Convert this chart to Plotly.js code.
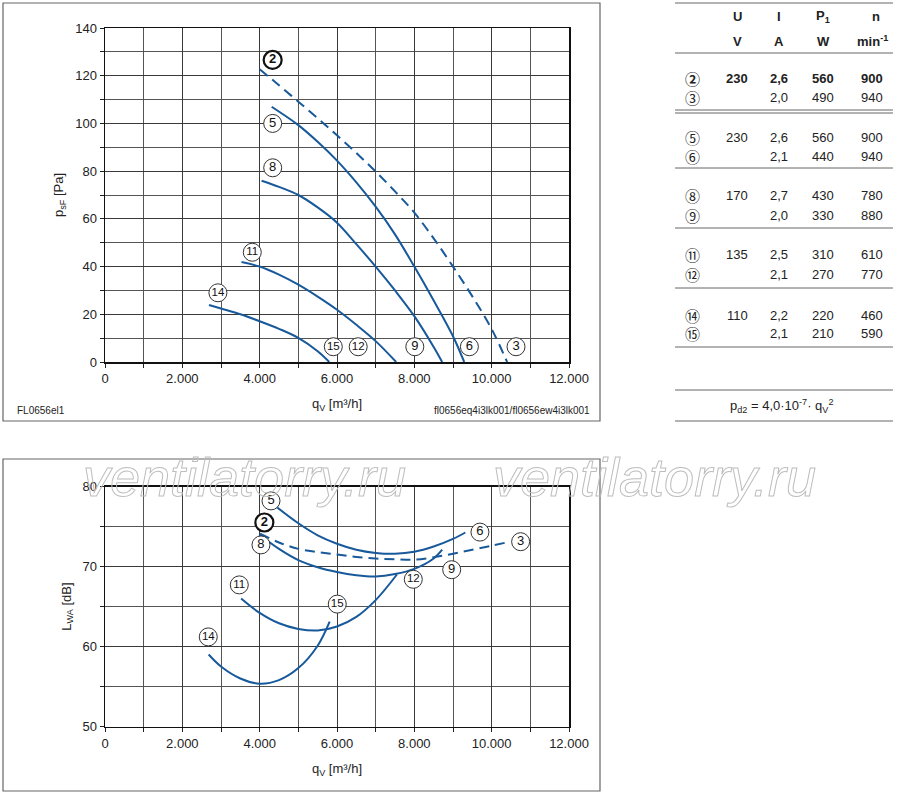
<!DOCTYPE html>
<html>
<head>
<meta charset="utf-8">
<script src="https://cdn.plot.ly/plotly-3.0.1.min.js"></script>
<style>html,body{margin:0;padding:0;background:#fff;} #chart{width:900px;height:797px;}</style>
</head>
<body>
<div id="chart"></div>
<script>
// ---------- DATA ----------
// Pressure curves p_sF [Pa] vs q_V [m3/h]
const pq_2  = [4000, 4500, 5000, 5500, 6000, 6500, 7000, 7500, 8000, 8500, 9000, 9500, 10000, 10400];
const pp_2  = [122.7, 116.0, 109.1, 102.2, 95.0, 87.6, 79.8, 71.5, 62.6, 51.8, 40.0, 27.5, 13.8, 0];
const pq_5  = [4310, 5000, 5500, 6000, 6500, 7000, 7500, 8000, 8500, 9000, 9290];
const pp_5  = [107.0, 99.3, 92.3, 84.4, 75.3, 65.1, 53.5, 40.0, 25.8, 10.8, 0];
const pq_8  = [4050, 4500, 5000, 5500, 6000, 6500, 7000, 7500, 8000, 8500, 8720];
const pp_8  = [76.0, 73.4, 70.0, 64.8, 58.4, 49.4, 40.0, 30.0, 19.2, 6.3, 0];
const pq_11 = [3530, 4000, 4500, 5000, 5500, 6000, 6500, 7000, 7530];
const pp_11 = [41.9, 40.0, 36.6, 32.4, 27.4, 21.9, 15.6, 8.75, 0];
const pq_14 = [2690, 3000, 3500, 4000, 4500, 5000, 5500, 5800];
const pp_14 = [23.9, 22.4, 20.0, 17.1, 13.9, 10.1, 4.5, 0];

// Sound curves L_WA [dB] vs q_V [m3/h]
const lq_2  = [4010, 4500, 5000, 5500, 6000, 6500, 7000, 7500, 8000, 8500, 9000, 9500, 10000, 10380];
const ll_2  = [74.1, 73.0, 72.2, 71.8, 71.5, 71.2, 71.0, 70.9, 70.85, 71.15, 71.6, 72.1, 72.6, 73.0];
const lq_5  = [4290, 5000, 5500, 6000, 6500, 7000, 7500, 8000, 8500, 9000, 9320];
const ll_5  = [78.0, 75.4, 73.9, 72.85, 72.1, 71.7, 71.6, 71.85, 72.5, 73.45, 74.25];
const lq_8  = [3990, 4500, 5000, 5500, 6000, 6500, 7000, 7500, 8000, 8500, 8720];
const ll_8  = [74.0, 72.2, 70.8, 69.9, 69.3, 68.9, 68.75, 69.05, 69.7, 71.0, 72.1];
const lq_11 = [3520, 4000, 4500, 5000, 5500, 6000, 6500, 7000, 7550];
const ll_11 = [66.0, 64.2, 62.9, 62.2, 62.0, 62.5, 63.7, 65.8, 69.0];
const lq_14 = [2680, 3000, 3500, 4000, 4500, 5000, 5500, 5810];
const ll_14 = [59.0, 57.5, 56.0, 55.35, 55.8, 57.3, 60.1, 63.1];

// Curve labels (circled numbers)
const topLabels = ['2', '5', '8', '11', '14', '15', '12', '9', '6', '3'];
const topLabelQ = [4336, 4337, 4337, 3809, 2920, 5904, 6548, 8012, 9424, 10630];
const topLabelP = [126.6, 100.0, 81.4, 46.0, 29.0, 6.4, 6.4, 6.4, 6.4, 6.4];
const botLabels = ['5', '2', '8', '6', '3', '9', '12', '11', '15', '14'];
const botLabelQ = [4293, 4121, 4034, 9697, 10749, 8966, 7973, 3473, 6007, 2671];
const botLabelL = [78.2, 75.5, 72.7, 74.3, 73.1, 69.6, 68.4, 67.7, 65.3, 61.2];

// Table
const tableHead  = ['U', 'I', 'P<sub>1</sub>', 'n'];
const tableUnits = ['V', 'A', 'W', 'min<sup>-1</sup>'];
const tableIds = ['②', '③', '⑤', '⑥', '⑧', '⑨', '⑪', '⑫', '⑭', '⑮'];
const tableU   = ['230', '', '230', '', '170', '', '135', '', '110', ''];
const tableI   = ['2,6', '2,0', '2,6', '2,1', '2,7', '2,0', '2,5', '2,1', '2,2', '2,1'];
const tableP   = ['560', '490', '560', '440', '430', '330', '310', '270', '220', '210'];
const tableN   = ['900', '940', '900', '940', '780', '880', '610', '770', '460', '590'];
const tableBoldRow = 0;
const formulaText = 'p<sub>d2</sub> = 4,0·10<sup>-7</sup>· q<sub>V</sub><sup>2</sup>';
const watermarkText = 'ventilatorry.ru';

// ---------- LAYOUT HELPERS ----------
const W = 900, H = 797;
const fx = v => v / W;
const fy = v => 1 - v / H;
const BLUE = '#17599a';
const FONT = 'Liberation Sans, Arial, sans-serif';
const TXT = '#222';

function curve(x, y, xa, ya, dashed) {
  return {x: x, y: y, xaxis: xa, yaxis: ya, type: 'scatter', mode: 'lines',
    line: {color: BLUE, width: 2, shape: 'spline', smoothing: 1, dash: dashed ? '10px,6px' : 'solid'},
    hoverinfo: 'skip'};
}
function labels(t, x, y, xa, ya) {
  return {x: x, y: y, text: t, xaxis: xa, yaxis: ya, type: 'scatter', mode: 'markers+text',
    textposition: 'middle center', cliponaxis: false, hoverinfo: 'skip',
    marker: {symbol: 'circle', size: 18, color: '#fff',
      line: {color: t.map(s => s === '2' ? '#111' : '#333'), width: t.map(s => s === '2' ? 2.2 : 1)}},
    textfont: {family: FONT, color: '#111', size: t.map(s => s.length > 1 ? 11.5 : 13),
      weight: t.map(s => s === '2' ? 700 : 400)}};
}

const data = [
  curve(pq_2, pp_2, 'x', 'y', true),
  curve(pq_5, pp_5, 'x', 'y'),
  curve(pq_8, pp_8, 'x', 'y'),
  curve(pq_11, pp_11, 'x', 'y'),
  curve(pq_14, pp_14, 'x', 'y'),
  curve(lq_2, ll_2, 'x2', 'y2', true),
  curve(lq_5, ll_5, 'x2', 'y2'),
  curve(lq_8, ll_8, 'x2', 'y2'),
  curve(lq_11, ll_11, 'x2', 'y2'),
  curve(lq_14, ll_14, 'x2', 'y2'),
  labels(topLabels, topLabelQ, topLabelP, 'x', 'y'),
  labels(botLabels, botLabelQ, botLabelL, 'x2', 'y2')
];

function xAxis(anchor, titleText) {
  return {domain: [fx(105), fx(569)], range: [0, 12000], anchor: anchor,
    dtick: 2000, tick0: 0, tickformat: ',d', ticks: 'outside', ticklen: 4, tickcolor: '#222',
    showgrid: true, gridcolor: '#3a3a3a', gridwidth: 1, zeroline: false,
    showline: true, linecolor: '#111', linewidth: 1.5, mirror: true,
    minor: {dtick: 1000, ticks: 'outside', ticklen: 4, tickcolor: '#222', showgrid: true, gridcolor: '#555', gridwidth: 1},
    tickfont: {family: FONT, size: 13, color: TXT},
    title: {text: titleText, font: {family: FONT, size: 13, color: TXT}, standoff: 14},
    fixedrange: true};
}
function yAxis(anchor, dom, rng, dt, mdt, titleText) {
  return {domain: dom, range: rng, anchor: anchor, dtick: dt, tick0: 0,
    ticks: 'outside', ticklen: 4, tickcolor: '#222',
    showgrid: true, gridcolor: '#3a3a3a', gridwidth: 1, zeroline: false,
    showline: true, linecolor: '#111', linewidth: 1.5, mirror: true,
    minor: {dtick: mdt, ticks: 'outside', ticklen: 4, tickcolor: '#222', showgrid: true, gridcolor: '#555', gridwidth: 1},
    tickfont: {family: FONT, size: 13, color: TXT},
    title: {text: titleText, font: {family: FONT, size: 13, color: TXT}, standoff: 8},
    fixedrange: true};
}

const annotations = [];
function ann(x, y, text, opts) {
  annotations.push(Object.assign({xref: 'paper', yref: 'paper', x: fx(x), y: fy(y), text: text,
    showarrow: false, xanchor: 'center', yanchor: 'middle',
    font: {family: FONT, size: 13, color: TXT}}, opts || {}));
}

// watermark (drawn as outlined text after render)
[244, 654].forEach(x => ann(x, 477, watermarkText, {
  font: {family: FONT, size: 54, style: 'italic', color: '#c8c8c8'}}));

// footnotes
ann(15, 410, 'FL0656el1', {xanchor: 'left', font: {family: FONT, size: 10, color: TXT}});
ann(592, 410, 'fl0656eq4i3lk001/fl0656ew4i3lk001', {xanchor: 'right', font: {family: FONT, size: 10, color: TXT}});

// table
const colX = [737, 779, 823, 872];
tableHead.forEach((t, i) => ann(i === 3 ? 876 : colX[i], 16, t, {font: {family: FONT, size: 13, color: TXT, weight: 700}}));
tableUnits.forEach((t, i) => ann(colX[i], 41, t, {font: {family: FONT, size: 13, color: TXT, weight: 700}}));
const rowY = [78, 97, 137, 156, 196, 215, 255, 274, 315, 334];
tableIds.forEach((id, r) => {
  const b = r === tableBoldRow ? 700 : 400;
  ann(692, rowY[r], id, {font: {family: 'Noto Sans CJK JP, DejaVu Sans, sans-serif', size: 15, color: TXT, weight: b}});
  [tableU[r], tableI[r], tableP[r], tableN[r]].forEach((v, c) => {
    if (v) ann(colX[c], rowY[r], v, {font: {family: FONT, size: 13, color: TXT, weight: b}});
  });
});
ann(781, 406, formulaText, {font: {family: FONT, size: 13, color: TXT}});

const shapes = [];
function rect(x0, y0, x1, y1) {
  shapes.push({type: 'rect', xref: 'paper', yref: 'paper', x0: fx(x0), x1: fx(x1), y0: fy(y1), y1: fy(y0),
    line: {color: '#666', width: 1.2}, layer: 'below'});
}
rect(3, 3, 600, 421);
rect(3, 459, 600, 791);
[3, 53, 110, 113, 168, 228, 288, 347, 390, 421].forEach(y => shapes.push({type: 'line', xref: 'paper', yref: 'paper',
  x0: fx(675), x1: fx(893), y0: fy(y), y1: fy(y), line: {color: '#666', width: 1}}));

const layout = {
  width: W, height: H, margin: {l: 0, r: 0, t: 0, b: 0},
  paper_bgcolor: '#fff', plot_bgcolor: '#fff', showlegend: false,
  separators: ',.',
  font: {family: FONT, size: 13, color: TXT},
  xaxis: xAxis('y', 'q<sub>V</sub> [m³/h]'),
  yaxis: yAxis('x', [fy(362), fy(28)], [0, 140], 20, 10, 'p<sub>sF</sub> [Pa]'),
  xaxis2: xAxis('y2', 'q<sub>V</sub> [m³/h]'),
  yaxis2: yAxis('x2', [fy(726.5), fy(486.5)], [50, 80], 10, 5, 'L<sub>WA</sub> [dB]'),
  annotations: annotations, shapes: shapes
};

Plotly.newPlot('chart', data, layout, {displayModeBar: false, staticPlot: true}).then(gd => {
  gd.querySelectorAll('.annotation-text').forEach(el => {
    if (el.textContent === watermarkText) {
      el.style.fill = 'none';
      el.style.stroke = '#bdbdbd';
      el.style.strokeWidth = '1px';
    }
  });
});
</script>
</body>
</html>
